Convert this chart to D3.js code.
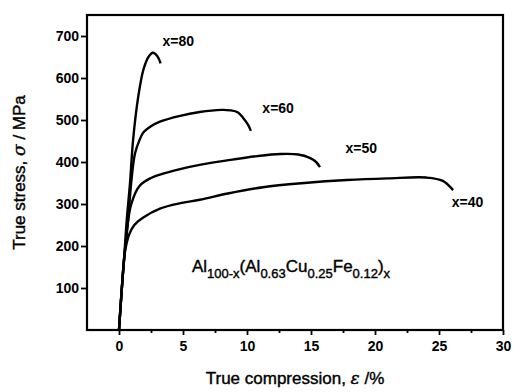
<!DOCTYPE html>
<html>
<head>
<meta charset="UTF-8">
<title>True stress vs true compression</title>
<script src="https://cdnjs.cloudflare.com/ajax/libs/d3/7.8.5/d3.min.js"></script>
<style>
  body { margin: 0; background: #fff; }
  svg text { font-family: Arial, "Liberation Sans", sans-serif; fill: #000; }
</style>
</head>
<body>
<script>
// curve data (strain in %, stress in MPa)
var strain80 = [0, 0.2, 0.4, 0.6, 0.86, 1.1, 1.5, 1.9, 2.3, 2.65, 3.0, 3.25];
var stress80 = [0, 90, 170, 260, 350, 452, 555, 619, 650, 660, 652, 635];

var strain60 = [0, 0.2, 0.4, 0.7, 1.0, 1.25, 1.6, 1.9, 2.5, 3.2, 4.77, 6.3, 8.0, 8.7, 9.3, 9.7, 10.1, 10.3];
var stress60 = [0, 90, 170, 260, 365, 420, 452, 470, 485, 496, 510, 519, 524, 523, 518, 505, 488, 474];

var strain50 = [0, 0.2, 0.4, 0.6, 0.94, 1.6, 2.5, 3.2, 4.77, 6.3, 8.7, 10.8, 12.6, 14.0, 14.9, 15.4, 15.7];
var stress50 = [0, 90, 170, 230, 298, 343, 362, 370, 383, 393, 405, 414, 419, 418, 410, 400, 388];

var strain40 = [0, 0.2, 0.4, 0.55, 0.8, 1.2, 1.9, 3.2, 4.8, 6.3, 8.5, 11.25, 14.5, 17.8, 21, 24, 25.3, 26.1];
var stress40 = [0, 90, 170, 200, 228, 250, 268, 289, 302, 310, 325, 340, 350, 357, 361, 363, 355, 333];

var curveNames = ["x=80", "x=60", "x=50", "x=40"];
var xTicks = [0, 5, 10, 15, 20, 25, 30];
var xMinor = [2.5, 7.5, 12.5, 17.5, 22.5, 27.5];
var yTicks = [100, 200, 300, 400, 500, 600, 700];

var width = 513, height = 392;
var margin = {top: 15, right: 10, bottom: 62, left: 87};

var svg = d3.select("body").append("svg")
  .attr("width", width)
  .attr("height", height);

var x = d3.scaleLinear().domain([-2.5, 30]).range([margin.left, width - margin.right]);
var y = d3.scaleLinear().domain([0, 750]).range([height - margin.bottom, margin.top]);

// frame
svg.append("rect")
  .attr("x", x(-2.5)).attr("y", y(750))
  .attr("width", x(30) - x(-2.5)).attr("height", y(0) - y(750))
  .attr("fill", "none").attr("stroke", "#000").attr("stroke-width", 2.2);

// x axis
svg.append("g")
  .attr("transform", "translate(0," + y(0) + ")")
  .call(d3.axisBottom(x).tickValues(xTicks).tickSize(5).tickPadding(6));
svg.append("g")
  .attr("transform", "translate(0," + y(0) + ")")
  .call(d3.axisBottom(x).tickValues(xMinor).tickSize(3).tickFormat(""));

// y axis
svg.append("g")
  .attr("transform", "translate(" + x(-2.5) + ",0)")
  .call(d3.axisLeft(y).tickValues(yTicks).tickSize(6).tickPadding(2));

svg.selectAll(".domain").remove();
svg.selectAll(".tick line").attr("stroke", "#000").attr("stroke-width", 1.8);
svg.selectAll(".tick text").attr("font-size", 14).attr("font-weight", "bold").attr("fill", "#000")
  .style("font-family", "Arial, 'Liberation Sans', sans-serif");

// curves
var series = [
  {name: curveNames[0], xs: strain80, ys: stress80},
  {name: curveNames[1], xs: strain60, ys: stress60},
  {name: curveNames[2], xs: strain50, ys: stress50},
  {name: curveNames[3], xs: strain40, ys: stress40}
];

var line = d3.line()
  .x(function(d) { return x(d[0]); })
  .y(function(d) { return y(d[1]); })
  .curve(d3.curveCatmullRom.alpha(0.5));

svg.selectAll("path.curve")
  .data(series)
  .enter().append("path")
  .attr("class", "curve")
  .attr("d", function(s) { return line(d3.zip(s.xs, s.ys)); })
  .attr("fill", "none")
  .attr("stroke", "#000")
  .attr("stroke-width", 2.4)
  .attr("stroke-linejoin", "round");

// curve labels
var labelPos = [[3.4, 676], [11.2, 517], [17.7, 421], [26, 293]];
svg.selectAll("text.lab")
  .data(curveNames)
  .enter().append("text")
  .attr("class", "lab")
  .attr("x", function(d, i) { return x(labelPos[i][0]); })
  .attr("y", function(d, i) { return y(labelPos[i][1]); })
  .attr("font-size", 14)
  .attr("font-weight", "bold")
  .text(function(d) { return d; });

// composition
var comp = svg.append("text")
  .attr("x", x(5.7)).attr("y", y(138))
  .attr("font-size", 17)
  .attr("stroke", "#000").attr("stroke-width", 0.4);
var parts = [["Al", ""], ["100-x", "sub"], ["(Al", ""], ["0.63", "sub"], ["Cu", ""], ["0.25", "sub"],
             ["Fe", ""], ["0.12", "sub"], [")", ""], ["x", "sub"]];
var prevSub = false;
parts.forEach(function(p) {
  var t = comp.append("tspan").text(p[0]);
  if (p[1] === "sub") {
    t.attr("font-size", 13);
    if (!prevSub) t.attr("dy", 6);
    prevSub = true;
  } else {
    if (prevSub) t.attr("dy", -6);
    prevSub = false;
  }
});

// axis titles
var xt = svg.append("text")
  .attr("x", (x(-2.5) + x(30)) / 2)
  .attr("y", 384)
  .attr("text-anchor", "middle")
  .attr("font-size", 17)
  .attr("stroke", "#000").attr("stroke-width", 0.4);
xt.append("tspan").text("True compression,  ");
xt.append("tspan").attr("font-style", "italic").attr("font-family", "'DejaVu Serif', serif").text("ε");
xt.append("tspan").text(" /%");

var yt = svg.append("text")
  .attr("transform", "translate(25," + ((y(0) + y(750)) / 2) + ") rotate(-90)")
  .attr("text-anchor", "middle")
  .attr("font-size", 17)
  .attr("stroke", "#000").attr("stroke-width", 0.4);
yt.append("tspan").text("True stress,  ");
yt.append("tspan").attr("font-style", "italic").attr("font-family", "'DejaVu Serif', serif").text("σ");
yt.append("tspan").text(" / MPa");
</script>
</body>
</html>
